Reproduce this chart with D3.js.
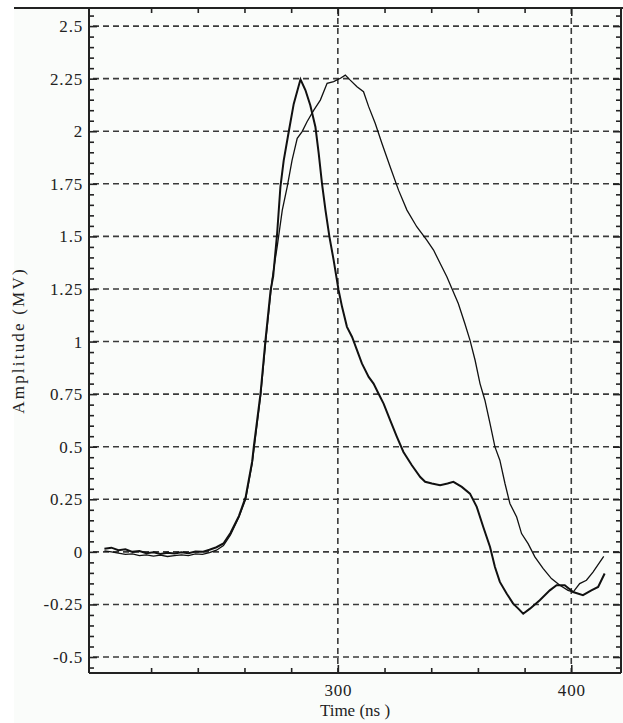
<!DOCTYPE html>
<html>
<head>
<meta charset="utf-8">
<script src="https://cdn.jsdelivr.net/npm/d3@7"></script>
<style>
html,body{margin:0;padding:0;background:#ffffff;}
svg{display:block;}
text{font-family:"Liberation Serif","Times New Roman",serif;fill:#222;}
</style>
</head>
<body>
<script>
// ---- data ----
const timeA = [200,203,206,209,212,215,218,221,224,227,230,233,236,239,242,245,248,251,254,257.6,260.5,263.3,264,266.9,269,271.2,272.3,274,275.4,276.8,279,281.1,284,286.1,288.2,290.4,291.8,293.2,294.7,296.4,298.2,300.3,301.8,303.9,306.1,308.2,310.3,313.2,315.3,317.4,319.6,322.4,325.3,328.1,331.7,335.3,337.4,340.3,343.8,347,349.5,353.1,356.6,359.5,362.3,365.2,367.3,369.4,372.3,375.1,377.3,379.4,382.3,386.5,390.8,393.7,397.2,400.8,405,408.6,411.5,414.3];
const ampA  = [0.015,0.02,0.008,0.012,0.0,0.004,-0.006,-0.002,-0.01,-0.004,-0.008,-0.002,-0.006,0.002,0.0,0.01,0.022,0.04,0.09,0.17,0.26,0.43,0.5,0.755,1.007,1.245,1.31,1.515,1.736,1.86,2.0,2.13,2.247,2.196,2.124,2.02,1.895,1.752,1.625,1.498,1.387,1.245,1.165,1.07,1.022,0.959,0.896,0.832,0.80,0.753,0.705,0.626,0.547,0.475,0.412,0.356,0.333,0.325,0.317,0.325,0.333,0.309,0.277,0.214,0.118,0.023,-0.072,-0.143,-0.198,-0.246,-0.27,-0.294,-0.27,-0.23,-0.183,-0.159,-0.159,-0.191,-0.206,-0.183,-0.167,-0.103];
const timeB = [200,203,206,209,212,215,218,221,224,227,230,233,236,239,242,245,248,251,254,257.6,260.5,263.3,266.9,269,271.9,274,276.2,278.3,280.4,282.6,284.7,286.8,289.7,292.5,295.4,298.2,301.1,303.2,305.3,308.2,311,313.2,316,318.9,322.4,326,329.6,333.8,338.1,341,343.8,346.7,348.8,351.6,354.4,356.6,358.8,360.9,363,365.2,367.3,369.4,371.6,373.7,376.6,378.7,381.5,384.4,387.9,391.5,395.1,398.6,400.8,403.6,406.5,409.3,413.9];
const ampB  = [0.005,0.0,-0.006,-0.012,-0.01,-0.018,-0.014,-0.02,-0.016,-0.022,-0.018,-0.014,-0.018,-0.01,-0.012,-0.004,0.008,0.03,0.08,0.165,0.25,0.42,0.74,0.99,1.30,1.45,1.625,1.736,1.863,1.966,1.998,2.045,2.10,2.148,2.228,2.236,2.252,2.267,2.243,2.212,2.188,2.117,2.038,1.942,1.831,1.72,1.625,1.546,1.482,1.435,1.372,1.308,1.253,1.181,1.086,1.007,0.911,0.80,0.721,0.61,0.499,0.436,0.325,0.23,0.166,0.087,0.039,-0.024,-0.079,-0.127,-0.159,-0.183,-0.191,-0.151,-0.135,-0.096,-0.021];
const yMajorTicks = [-0.5,-0.25,0,0.25,0.5,0.75,1,1.25,1.5,1.75,2,2.25,2.5];
const xMajorTicks = [300,400];
const xMinorTicks = [220,240,260,280,320,340,360,380];
const xGridLines = [300,400];

// ---- layout ----
const W = 623, H = 723;
const L = 89, R = 621, T = 8, B = 673;

const svg = d3.select("body").append("svg").attr("width", W).attr("height", H);
svg.append("rect").attr("x",14).attr("y",T).attr("width",W-14).attr("height",H-T).attr("fill","#fafcfa");

const x = d3.scaleLinear().domain([193.4, 421.3]).range([L, R]);
const y = d3.scaleLinear().domain([-0.576, 2.586]).range([B, T]);

// minor y ticks every 0.05
const yMinorTicks = d3.range(-0.55, 2.58, 0.05).map(v => +v.toFixed(2))
  .filter(v => !yMajorTicks.some(m => Math.abs(m - v) < 1e-6));

// grid
const grid = svg.append("g").attr("stroke","#3a3a3a").attr("stroke-width",1.6).attr("fill","none");
grid.selectAll("line.h").data(yMajorTicks).join("line")
  .attr("x1", L).attr("x2", R).attr("y1", d => y(d)).attr("y2", d => y(d))
  .attr("stroke-dasharray","6,4").attr("stroke-dashoffset",-4);
grid.selectAll("line.v").data(xGridLines).join("line")
  .attr("x1", d => x(d)).attr("x2", d => x(d)).attr("y1", T).attr("y2", B)
  .attr("stroke-dasharray","6,4");

// curves
const line = d3.line().x(d => x(d[0])).y(d => y(d[1]));
svg.append("path").datum(timeB.map((t,i)=>[t,ampB[i]]))
  .attr("d", line).attr("fill","none").attr("stroke","#111").attr("stroke-width",1.3);
svg.append("path").datum(timeA.map((t,i)=>[t,ampA[i]]))
  .attr("d", line).attr("fill","none").attr("stroke","#111").attr("stroke-width",2);

// axes
function styleAxis(g){
  g.select(".domain").remove();
  g.selectAll(".tick line").attr("stroke","#222").attr("stroke-width",1.6);
  g.selectAll(".tick text").style("font-family",'"Liberation Serif",serif').style("font-size","17px")
    .style("letter-spacing","0.8px").attr("fill","#222");
}
svg.append("g").attr("transform",`translate(${L},0)`)
  .call(d3.axisLeft(y).tickValues(yMajorTicks).tickSize(-8).tickPadding(6).tickFormat(d => String(d)))
  .call(styleAxis);
svg.append("g").attr("transform",`translate(${L},0)`)
  .call(d3.axisLeft(y).tickValues(yMinorTicks).tickSize(-5).tickFormat(""))
  .call(styleAxis);
svg.append("g").attr("transform",`translate(${R},0)`)
  .call(d3.axisRight(y).tickValues(yMajorTicks).tickSize(-8).tickFormat(""))
  .call(styleAxis);
svg.append("g").attr("transform",`translate(${R},0)`)
  .call(d3.axisRight(y).tickValues(yMinorTicks).tickSize(-5).tickFormat(""))
  .call(styleAxis);
svg.append("g").attr("transform",`translate(0,${B})`)
  .call(d3.axisBottom(x).tickValues(xMajorTicks).tickSize(-8).tickPadding(11).tickFormat(d => String(d)))
  .call(styleAxis);
svg.append("g").attr("transform",`translate(0,${B})`)
  .call(d3.axisBottom(x).tickValues(xMinorTicks).tickSize(-5).tickFormat(""))
  .call(styleAxis);
svg.append("g").attr("transform",`translate(0,${T})`)
  .call(d3.axisTop(x).tickValues(xMajorTicks).tickSize(-8).tickFormat(""))
  .call(styleAxis);
svg.append("g").attr("transform",`translate(0,${T})`)
  .call(d3.axisTop(x).tickValues(xMinorTicks).tickSize(-5).tickFormat(""))
  .call(styleAxis);

// frame
const frame = svg.append("g").attr("stroke","#222").attr("stroke-width",2).attr("fill","none");
frame.append("line").attr("x1",14).attr("x2",W).attr("y1",T).attr("y2",T);
frame.append("line").attr("x1",L).attr("x2",L).attr("y1",T).attr("y2",B);
frame.append("line").attr("x1",L).attr("x2",R).attr("y1",B).attr("y2",B);
frame.append("line").attr("x1",R).attr("x2",R).attr("y1",T).attr("y2",B);

// titles
svg.append("text").attr("x",(L+R)/2).attr("y",716).attr("text-anchor","middle")
  .style("font-size","17px").text("Time (ns )");
svg.append("text").attr("transform",`translate(24,${(T+B)/2}) rotate(-90)`).attr("text-anchor","middle")
  .style("font-size","17px").style("letter-spacing","2.2px").text("Amplitude (MV)");
</script>
</body>
</html>
